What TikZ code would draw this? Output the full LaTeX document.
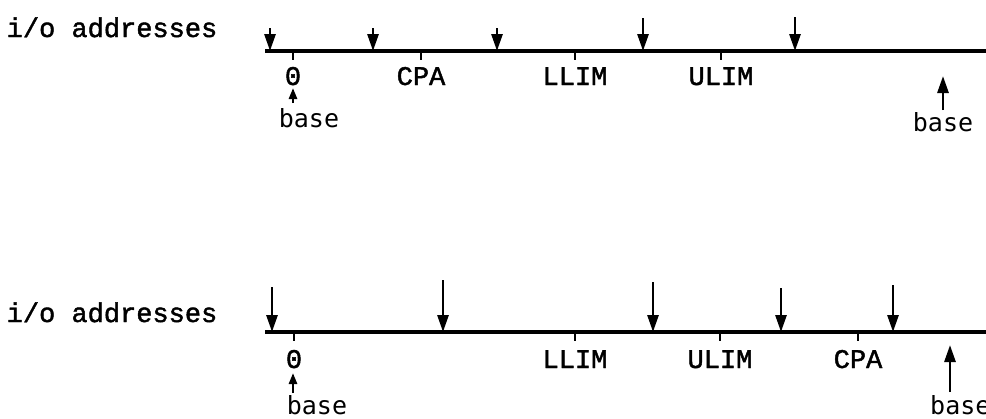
\documentclass[tikz,border=0pt]{standalone}
\usepackage{fontspec}
\setmainfont{Liberation Mono}[BoldFont={Liberation Mono}, BoldFeatures={FakeBold=1.6}]
\newfontfamily\basefont{DejaVu Sans Mono}
\usetikzlibrary{arrows.meta}
\begin{document}
\begin{tikzpicture}[x=1pt,y=-1pt,
  axis/.style={line width=3.4pt},
  tickmark/.style={line width=2.2pt},
  ptr/.style={line width=2.8pt,-{Triangle[length=17pt,width=11pt]}},
  baseptr/.style={line width=2.6pt,-{Triangle[length=11pt,width=8pt]}},
  lbl/.style={font=\bfseries\fontsize{27}{27}\selectfont, anchor=base, inner sep=0pt},
  baselbl/.style={font=\basefont\fontsize{25}{25}\selectfont, anchor=base, inner sep=0pt}]
\useasboundingbox (0,0) rectangle (986,418);
\clip (0,0) rectangle (986,418);

% ---- first address map ----
\node[lbl] (t-title) at (112,37) {i/o addresses};
\coordinate (t-start) at (265,51);
\coordinate (t-end) at (986,51);
\draw[axis] (t-start) -- (t-end);
\foreach \n/\x/\txt in {zero/293/0, cpa/421/CPA, llim/575/LLIM, ulim/721/ULIM}{
  \coordinate (t-\n) at (\x,51);
  \draw[tickmark] (t-\n) -- ++(0,9);
  \node[lbl] (t-\n-lbl) at (\x,85) {\txt};
}
\foreach \i/\x/\y in {1/270/28, 2/373/28, 3/497/28, 4/643/18, 5/795/17}{
  \coordinate (t-from\i) at (\x,\y);
  \coordinate (t-to\i) at (\x,51);
  \draw[ptr] (t-from\i) -- (t-to\i);
}
\node[baselbl] (t-base1) at (309,127) {base};
\coordinate (t-b1tail) at (293,103);
\coordinate (t-b1tip) at (293,88);
\draw[baseptr] (t-b1tail) -- (t-b1tip);
\node[baselbl] (t-base2) at (943,131) {base};
\coordinate (t-b2tail) at (943,110);
\coordinate (t-b2tip) at (943,76);
\draw[ptr] (t-b2tail) -- (t-b2tip);

% ---- second address map ----
\node[lbl] (b-title) at (112,322) {i/o addresses};
\coordinate (b-start) at (265,332);
\coordinate (b-end) at (986,332);
\draw[axis] (b-start) -- (b-end);
\foreach \n/\x/\txt in {zero/294/0, llim/575/LLIM, ulim/720/ULIM, cpa/858/CPA}{
  \coordinate (b-\n) at (\x,332);
  \draw[tickmark] (b-\n) -- ++(0,9);
  \node[lbl] (b-\n-lbl) at (\x,368) {\txt};
}
\foreach \i/\x/\y in {1/272/287, 2/443/280, 3/653/282, 4/781/288, 5/893/285}{
  \coordinate (b-from\i) at (\x,\y);
  \coordinate (b-to\i) at (\x,332);
  \draw[ptr] (b-from\i) -- (b-to\i);
}
\node[baselbl] (b-base1) at (317,414) {base};
\coordinate (b-b1tail) at (293,393);
\coordinate (b-b1tip) at (293,373);
\draw[baseptr] (b-b1tail) -- (b-b1tip);
\node[baselbl, anchor=base west] (b-base2) at (930,414) {base};
\coordinate (b-b2tail) at (950,392);
\coordinate (b-b2tip) at (950,345);
\draw[ptr] (b-b2tail) -- (b-b2tip);
\end{tikzpicture}
\end{document}
